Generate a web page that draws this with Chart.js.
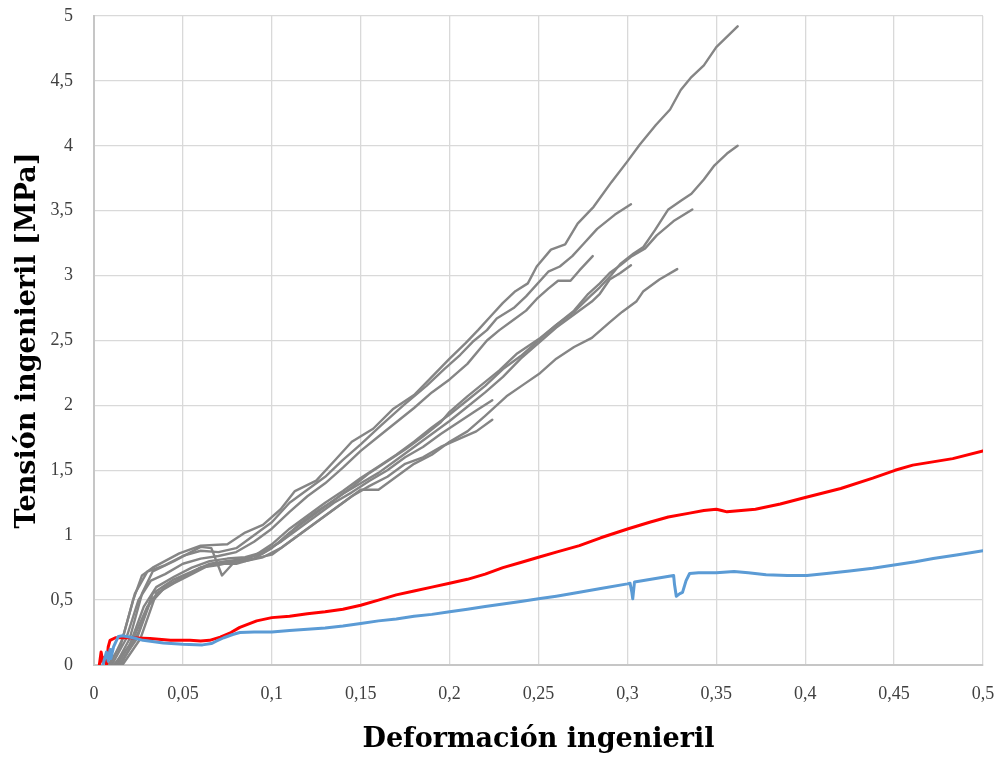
<!DOCTYPE html>
<html lang="es">
<head>
<meta charset="utf-8">
<title>Tensión vs deformación ingenieril</title>
<script src="https://cdn.jsdelivr.net/npm/chart.js@4/dist/chart.umd.min.js"></script>
<style>
  html, body { margin: 0; padding: 0; background: #ffffff; }
  #wrap { width: 1001px; height: 758px; }
</style>
</head>
<body>
<div id="wrap"><canvas id="grafico" width="1001" height="758"></canvas></div>
<script>
// Ensayos de tracción: deformación ingenieril [-] frente a tensión ingenieril [MPa]
const probeta1 = [[0.008,0],[0.015,0.15],[0.022,0.5],[0.027,0.69],[0.033,0.75],[0.048,0.86],[0.06,0.92],[0.075,0.93],[0.085,1.02],[0.095,1.08],[0.105,1.2],[0.113,1.34],[0.125,1.42],[0.135,1.57],[0.145,1.72],[0.157,1.82],[0.168,1.97],[0.18,2.08],[0.19,2.22],[0.2,2.36],[0.209,2.48],[0.216,2.58],[0.224,2.7],[0.23,2.79],[0.237,2.88],[0.244,2.94],[0.249,3.07],[0.257,3.2],[0.265,3.24],[0.272,3.4],[0.281,3.53],[0.291,3.72],[0.3,3.88],[0.307,4.01],[0.316,4.16],[0.324,4.28],[0.33,4.43],[0.336,4.53],[0.343,4.62],[0.35,4.76],[0.362,4.92]];
const probeta2 = [[0.009,0],[0.016,0.2],[0.023,0.55],[0.03,0.72],[0.04,0.77],[0.05,0.84],[0.06,0.88],[0.07,0.87],[0.08,0.9],[0.09,1.0],[0.1,1.1],[0.11,1.25],[0.12,1.35],[0.13,1.45],[0.14,1.58],[0.15,1.7],[0.161,1.84],[0.174,2.0],[0.187,2.15],[0.197,2.28],[0.206,2.39],[0.213,2.49],[0.221,2.58],[0.2265,2.67],[0.236,2.75],[0.243,2.84],[0.2555,3.03],[0.262,3.07],[0.269,3.15],[0.275,3.24],[0.283,3.36],[0.293,3.47],[0.302,3.55]];
const probeta3 = [[0.01,0],[0.018,0.2],[0.025,0.5],[0.032,0.65],[0.04,0.7],[0.05,0.78],[0.06,0.82],[0.07,0.84],[0.08,0.87],[0.09,0.95],[0.1,1.05],[0.11,1.18],[0.12,1.3],[0.13,1.4],[0.14,1.52],[0.15,1.65],[0.16,1.76],[0.17,1.87],[0.18,1.98],[0.19,2.1],[0.2,2.2],[0.21,2.32],[0.221,2.5],[0.228,2.58],[0.236,2.66],[0.243,2.73],[0.249,2.82],[0.2555,2.9],[0.261,2.96],[0.268,2.96],[0.273,3.04],[0.2805,3.15]];
const probeta4 = [[0.011,0],[0.02,0.15],[0.028,0.45],[0.035,0.6],[0.045,0.68],[0.055,0.75],[0.065,0.8],[0.075,0.82],[0.085,0.83],[0.095,0.87],[0.105,0.95],[0.115,1.08],[0.125,1.18],[0.135,1.27],[0.145,1.37],[0.155,1.48],[0.165,1.57],[0.175,1.66],[0.185,1.76],[0.195,1.87],[0.2,1.95],[0.21,2.07],[0.219,2.17],[0.228,2.27],[0.238,2.4],[0.251,2.52],[0.26,2.62],[0.27,2.72],[0.279,2.84],[0.2845,2.91],[0.29,2.99],[0.296,3.09],[0.3035,3.17],[0.309,3.22],[0.3155,3.35],[0.323,3.51],[0.3305,3.58],[0.336,3.63],[0.343,3.74],[0.349,3.85],[0.356,3.94],[0.362,4.0]];
const probeta5 = [[0.012,0],[0.02,0.2],[0.027,0.55],[0.033,0.72],[0.045,0.8],[0.06,0.91],[0.066,0.9],[0.072,0.69],[0.078,0.78],[0.09,0.84],[0.1,0.93],[0.11,1.05],[0.12,1.15],[0.13,1.25],[0.14,1.34],[0.15,1.44],[0.16,1.53],[0.17,1.62],[0.18,1.72],[0.19,1.83],[0.2,1.93],[0.21,2.04],[0.22,2.15],[0.23,2.28],[0.24,2.38],[0.25,2.5],[0.26,2.62],[0.27,2.73],[0.278,2.86],[0.2845,2.94],[0.29,3.02],[0.296,3.08],[0.3025,3.15],[0.31,3.21],[0.3165,3.31],[0.326,3.42],[0.3365,3.51]];
const probeta6 = [[0.013,0],[0.022,0.2],[0.03,0.45],[0.04,0.6],[0.05,0.67],[0.06,0.75],[0.07,0.78],[0.08,0.78],[0.09,0.82],[0.1,0.9],[0.11,1.02],[0.12,1.12],[0.13,1.22],[0.14,1.32],[0.15,1.4],[0.16,1.48],[0.17,1.58],[0.18,1.68],[0.19,1.78],[0.2,1.88],[0.21,1.99],[0.22,2.1],[0.23,2.22],[0.24,2.36],[0.25,2.48],[0.26,2.6],[0.27,2.7],[0.28,2.8],[0.2845,2.86],[0.29,2.97],[0.296,3.02],[0.302,3.08]];
const probeta7 = [[0.014,0],[0.024,0.2],[0.032,0.5],[0.04,0.6],[0.05,0.68],[0.06,0.75],[0.07,0.77],[0.08,0.8],[0.09,0.82],[0.1,0.85],[0.11,0.95],[0.12,1.05],[0.13,1.15],[0.14,1.25],[0.15,1.35],[0.16,1.35],[0.17,1.45],[0.18,1.55],[0.19,1.62],[0.2,1.72],[0.21,1.8],[0.22,1.92],[0.232,2.07],[0.2415,2.16],[0.251,2.25],[0.26,2.36],[0.27,2.45],[0.28,2.52],[0.29,2.64],[0.297,2.72],[0.305,2.8],[0.309,2.88],[0.318,2.97],[0.328,3.05]];
const probeta8 = [[0.015,0],[0.025,0.25],[0.033,0.55],[0.045,0.66],[0.055,0.72],[0.065,0.78],[0.075,0.8],[0.085,0.82],[0.095,0.86],[0.105,0.95],[0.115,1.05],[0.125,1.15],[0.135,1.25],[0.145,1.33],[0.155,1.42],[0.165,1.5],[0.175,1.6],[0.185,1.68],[0.195,1.78],[0.205,1.87],[0.215,1.96],[0.224,2.04]];
const probeta9 = [[0.016,0],[0.026,0.2],[0.035,0.55],[0.045,0.63],[0.055,0.7],[0.065,0.77],[0.075,0.8],[0.085,0.8],[0.095,0.83],[0.105,0.9],[0.115,1.0],[0.125,1.1],[0.135,1.2],[0.145,1.3],[0.155,1.38],[0.165,1.45],[0.175,1.55],[0.185,1.6],[0.195,1.68],[0.205,1.74],[0.215,1.8],[0.224,1.89]];

const curvaRoja = [[0.003,0],[0.0035,0.05],[0.004,0.1],[0.005,0.02],[0.006,0.06],[0.007,0.0],[0.008,0.14],[0.009,0.19],[0.012,0.21],[0.02,0.21],[0.0315,0.205],[0.043,0.19],[0.054,0.19],[0.06,0.185],[0.065,0.19],[0.071,0.215],[0.077,0.25],[0.082,0.29],[0.0915,0.34],[0.1,0.365],[0.11,0.375],[0.12,0.395],[0.13,0.41],[0.14,0.43],[0.15,0.46],[0.16,0.5],[0.17,0.54],[0.18,0.57],[0.19,0.6],[0.2,0.63],[0.21,0.66],[0.22,0.7],[0.23,0.75],[0.24,0.79],[0.25,0.83],[0.26,0.87],[0.273,0.92],[0.285,0.98],[0.3005,1.05],[0.3125,1.1],[0.323,1.14],[0.335,1.17],[0.343,1.19],[0.35,1.2],[0.353,1.19],[0.356,1.18],[0.364,1.19],[0.372,1.2],[0.386,1.24],[0.4,1.29],[0.42,1.36],[0.438,1.44],[0.4505,1.5],[0.4605,1.54],[0.483,1.59],[0.5,1.65]];
const curvaAzul = [[0.005,0],[0.006,0.05],[0.007,0.1],[0.008,0.03],[0.009,0.12],[0.0095,0.05],[0.011,0.14],[0.0137,0.22],[0.016,0.225],[0.022,0.21],[0.0276,0.19],[0.039,0.17],[0.05,0.16],[0.061,0.155],[0.066,0.165],[0.069,0.185],[0.073,0.21],[0.078,0.235],[0.082,0.25],[0.09,0.255],[0.1,0.255],[0.11,0.265],[0.12,0.275],[0.13,0.285],[0.14,0.3],[0.15,0.32],[0.16,0.34],[0.17,0.355],[0.18,0.375],[0.19,0.39],[0.2,0.41],[0.21,0.43],[0.22,0.45],[0.23,0.47],[0.24,0.49],[0.25,0.51],[0.26,0.53],[0.273,0.56],[0.285,0.59],[0.3,0.625],[0.3015,0.63],[0.3025,0.56],[0.303,0.51],[0.304,0.64],[0.315,0.665],[0.326,0.69],[0.3265,0.62],[0.3275,0.53],[0.3295,0.55],[0.331,0.56],[0.333,0.65],[0.335,0.705],[0.34,0.71],[0.35,0.71],[0.36,0.72],[0.368,0.71],[0.378,0.695],[0.39,0.69],[0.401,0.69],[0.412,0.705],[0.425,0.725],[0.438,0.745],[0.45,0.77],[0.462,0.795],[0.472,0.82],[0.486,0.85],[0.5,0.88]];

const ensayosGrises = [probeta1, probeta2, probeta3, probeta4, probeta5, probeta6, probeta7, probeta8, probeta9];

// Ejes
const ejeX = { min: 0, max: 0.5, paso: 0.05, titulo: 'Deformación ingenieril' };
const ejeY = { min: 0, max: 5, paso: 0.5, titulo: 'Tensión ingenieril [MPa]' };

const aPuntos = serie => serie.map(([x, y]) => ({ x, y }));
const formatoComa = v => String(Number(v.toFixed(2))).replace('.', ',');

const datasets = [
  { label: 'Azul', data: aPuntos(curvaAzul), borderColor: '#5b9bd5', borderWidth: 3 },
  { label: 'Roja', data: aPuntos(curvaRoja), borderColor: '#ff0000', borderWidth: 3 },
  ...ensayosGrises.map((s, i) => ({
    label: 'Probeta ' + (i + 1), data: aPuntos(s), borderColor: '#858585', borderWidth: 2.4
  }))
];

const fuenteTicks = { family: '"Liberation Serif", serif', size: 18 };
const fuenteTitulo = { family: '"DejaVu Serif", serif', size: 27, weight: 'bold' };

new Chart(document.getElementById('grafico'), {
  type: 'line',
  data: { datasets },
  options: {
    responsive: false,
    animation: false,
    devicePixelRatio: 1,
    elements: { point: { radius: 0 }, line: { tension: 0, borderCapStyle: 'round', borderJoinStyle: 'round' } },
    layout: { padding: { top: 16, right: 18, left: 0, bottom: 0 } },
    plugins: { legend: { display: false }, tooltip: { enabled: false } },
    scales: {
      x: {
        type: 'linear',
        min: ejeX.min, max: ejeX.max,
        afterFit: s => { s.height = 93; s.paddingLeft = 0; s.paddingRight = 0; },
        ticks: { stepSize: ejeX.paso, color: '#404040', font: fuenteTicks, padding: 18, maxRotation: 0,
                 callback: v => formatoComa(v) },
        grid: { color: '#d9d9d9', lineWidth: 1.3, drawTicks: false },
        border: { color: '#c6c6c6', width: 2 },
        title: { display: true, text: ejeX.titulo, color: '#000', font: fuenteTitulo, padding: { top: 0, bottom: 2 } }
      },
      y: {
        type: 'linear',
        min: ejeY.min, max: ejeY.max,
        afterFit: s => { s.width = 94; s.paddingTop = 0; s.paddingBottom = 0; },
        ticks: { stepSize: ejeY.paso, color: '#404040', font: fuenteTicks, padding: 21,
                 callback: v => formatoComa(v) },
        grid: { color: '#d9d9d9', lineWidth: 1.3, drawTicks: false },
        border: { color: '#c6c6c6', width: 2 },
        title: { display: true, text: ejeY.titulo, color: '#000', font: fuenteTitulo, padding: { top: 12, bottom: 0 } }
      }
    }
  }
});
</script>
</body>
</html>
